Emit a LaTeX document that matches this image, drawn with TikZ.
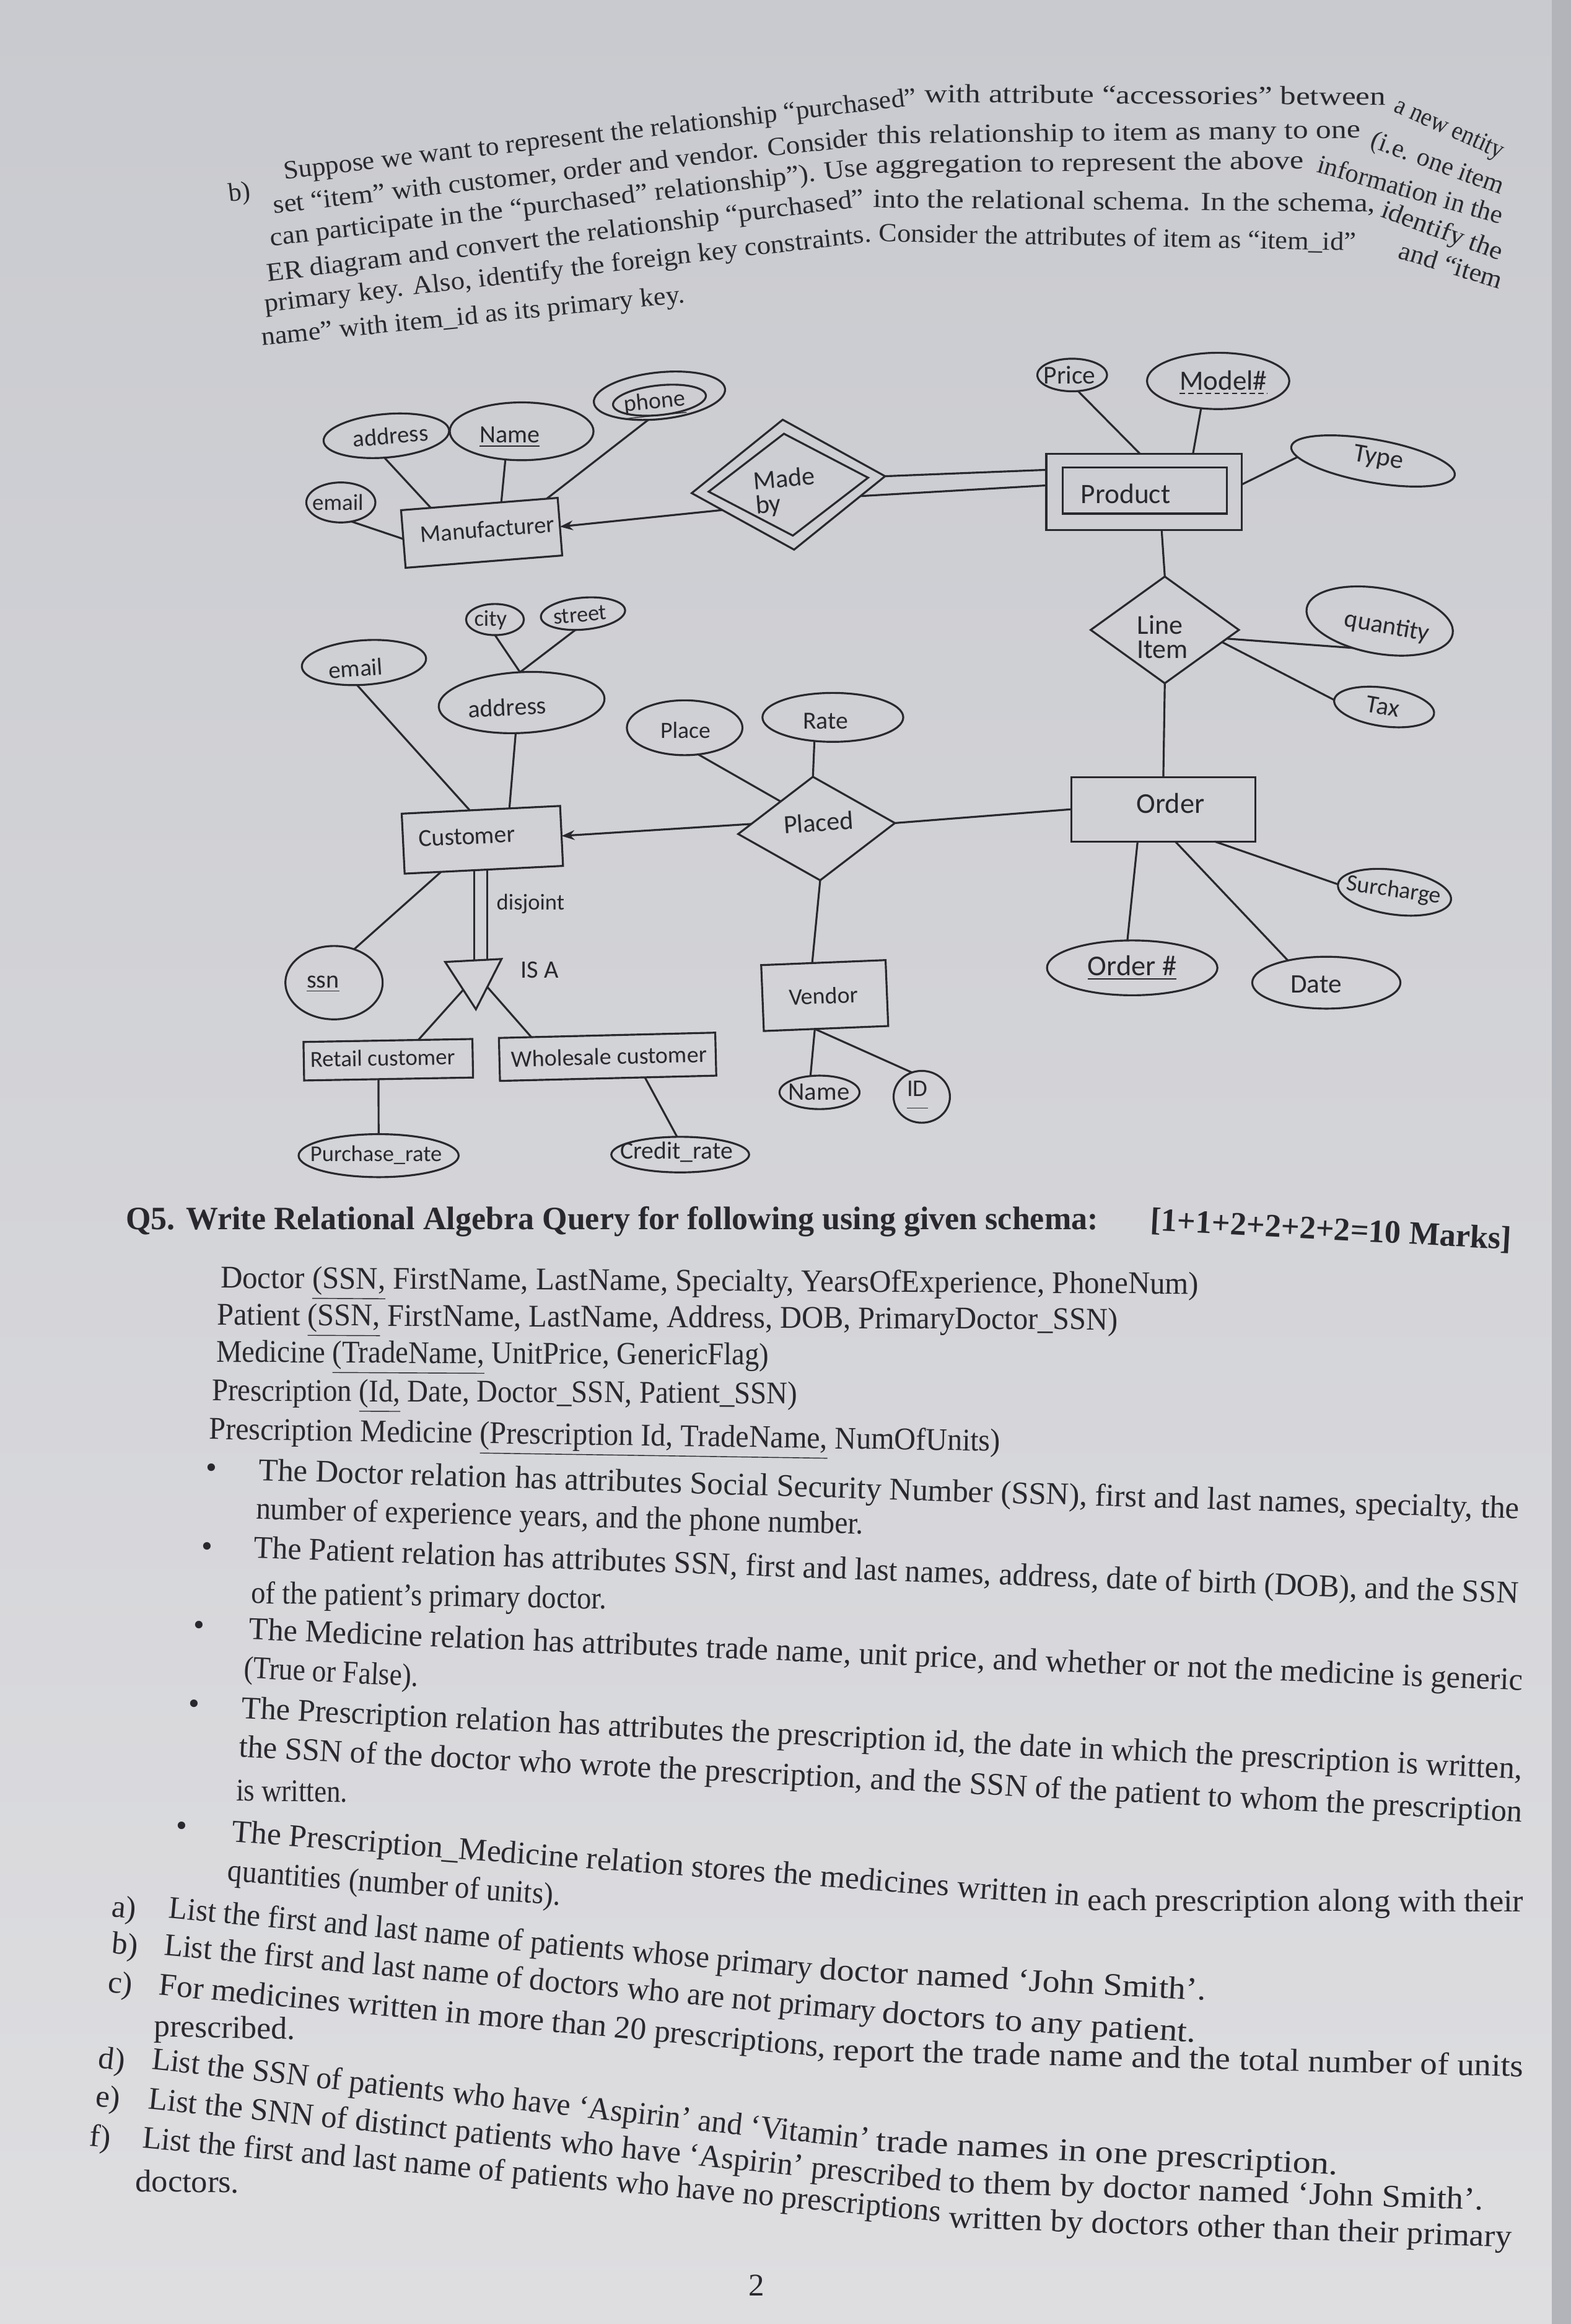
\documentclass[tikz,border=0pt]{standalone}
\usepackage{fontspec}
\setmainfont{Liberation Serif}
\newfontfamily\erfont{Carlito}
\usepackage{graphicx}
\usetikzlibrary{shapes.geometric,arrows.meta,calc}
\newlength\dpx
\setlength\dpx{0.02391cm}
\definecolor{ink}{RGB}{40,40,46}
\definecolor{papertop}{RGB}{201,202,207}
\definecolor{paperbot}{RGB}{222,222,225}
\definecolor{pageedge}{RGB}{178,180,186}
\newcommand\erf[1]{\erfont\fontsize{#1}{#1}\selectfont}
\newcommand\erfl[2]{\erfont\fontsize{#1}{#2}\selectfont}
\newcommand\tline[7]{\node[#1,rotate=#5] (#2) at (#3,#4) {\resizebox{#6\dpx}{\height}{#7}};}
\begin{document}
\begin{tikzpicture}[x=0.02391cm,y=-0.02391cm,
 tlA/.style={anchor=base west,inner sep=0pt,outer sep=0pt,text=ink,font=\fontsize{12}{14}\selectfont},
 tlB/.style={anchor=base west,inner sep=0pt,outer sep=0pt,text=ink,font=\fontsize{14.5}{17}\selectfont},
 tlH/.style={anchor=base west,inner sep=0pt,outer sep=0pt,text=ink,font=\fontsize{15}{18}\selectfont\bfseries},
 bul/.style={inner sep=0pt,outer sep=0pt,text=ink,font=\fontsize{14.5}{17}\selectfont},
 conn/.style={draw=ink,line width=0.9pt},
 shp/.style={draw=ink,line width=0.9pt,inner sep=0pt,outer sep=0pt},
 ent/.style={shp,rectangle},
 att/.style={shp,ellipse},
 rel/.style={shp,diamond},
 sz/.style 2 args={minimum width=#1\dpx,minimum height=#2\dpx},
 lab/.style={inner sep=0pt,outer sep=0pt,text=ink,font=\erf{11}},
 arr/.style={-{Stealth[length=6pt,width=4.5pt]}},
]
% paper
\shade[top color=papertop,bottom color=paperbot] (0,0) rectangle (1060,1568);
\fill[pageedge] (1047,0) rectangle (1060,1568);
\useasboundingbox (0,0) rectangle (1060,1568);

% ---------- top paragraph ----------
\node[tlA,rotate=6.5] (pb) at (155,136) {b)};
\tline{tlA}{p1a}{192}{121}{6.68}{430}{Suppose we want to represent the relationship “purchased”}
\tline{tlA}{p1b}{624}{69}{-0.38}{311}{with attribute “accessories” between}
\tline{tlA}{p1c}{940}{75}{-24}{79}{a new entity}
\tline{tlA}{p2a}{185}{144}{6.54}{404}{set “item” with customer, order and vendor. Consider}
\tline{tlA}{p2b}{592}{97}{0.7}{326}{this relationship to item as many to one}
\tline{tlA}{p2c}{924}{99}{-20}{94}{(i.e. one item}
\tline{tlA}{p3a}{183}{166}{6.8}{406}{can participate in the “purchased” relationship”). Use}
\tline{tlA}{p3b}{591}{117}{0.6}{289}{aggregation to represent the above}
\tline{tlA}{p3c}{888}{116}{-15.8}{129}{information in the}
\tline{tlA}{p4a}{181}{190}{7.2}{406}{ER diagram and convert the relationship “purchased”}
\tline{tlA}{p4b}{589}{140}{-0.5}{339}{into the relational schema. In the schema,}
\tline{tlA}{p4c}{931}{146}{-20.3}{86}{identify the}
\tline{tlA}{p5a}{179}{210.5}{6.6}{412}{primary key. Also, identify the foreign key constraints.}
\tline{tlA}{p5b}{593}{163}{-1.06}{322}{Consider the attributes of item as “item\_id”}
\tline{tlA}{p5c}{943}{174}{-17}{72}{and “item}
\tline{tlA}{p6}{177}{233}{5.8}{287}{name” with item\_id as its primary key.}

% ---------- ER diagram shapes ----------
\node[ent,sz={106}{39},rotate=4.5] (mfr) at (325,359.5) {};
\node[att,sz={46.6}{27}] (memail) at (230,339) {};
\node[att,sz={85}{29.3},rotate=5] (maddr) at (260.7,294) {};
\node[att,sz={97}{39}] (mname) at (352,291) {};
\node[att,sz={89}{31.5},rotate=6] (mphone) at (445,267) {};
\node[att,sz={63}{20},rotate=6] (mphonein) at (445,270) {};
\node[rel,sz={131}{88},rotate=5] (made) at (532,327) {};
\node[rel,sz={108}{69},rotate=5] (madein) at (532,327) {};
\node[ent,sz={132}{51.5}] (prod) at (772,332) {};
\node[ent,sz={111}{31}] (prodin) at (772.5,331) {};
\node[att,sz={47}{22}] (price) at (723.5,253) {};
\node[att,sz={96}{38}] (model) at (822,257) {};
\node[att,sz={112}{29},rotate=-10] (type) at (926.5,311) {};
\node[rel,sz={100}{72}] (li) at (786,425) {};
\node[att,sz={100}{44},rotate=-10] (qty) at (931,419) {};
\node[att,sz={68}{26},rotate=-8] (tax) at (934,477) {};
\node[ent,sz={124}{43.5}] (order) at (785,546) {};
\node[att,sz={77}{30},rotate=-8] (surch) at (941,602) {};
\node[att,sz={115}{37}] (onum) at (764,653) {};
\node[att,sz={100}{35}] (date) at (895,663) {};
\node[rel,sz={106}{70},rotate=4] (placed) at (551,559) {};
\node[att,sz={78}{37}] (place) at (462,491) {};
\node[att,sz={95}{33}] (rate) at (562,484) {};
\node[ent,sz={107}{40.5},rotate=2.8] (cust) at (325.5,566.6) {};
\node[att,sz={84}{30},rotate=4] (cemail) at (245.6,447) {};
\node[att,sz={112}{41},rotate=3] (caddr) at (352,474) {};
\node[att,sz={39}{21}] (city) at (334,418) {};
\node[att,sz={57}{21.5},rotate=5] (street) at (393.4,414) {};
\node[att,sz={65.6}{49.5}] (ssn) at (225.4,663) {};
\node[shp,regular polygon,regular polygon sides=3,shape border rotate=180,minimum size=44\dpx,rotate=3] (isa) at (320,659) {};
\node[ent,sz={114}{26},rotate=1] (retail) at (262,715) {};
\node[ent,sz={146}{29},rotate=1.4] (whole) at (410,713) {};
\node[att,sz={108}{29}] (prate) at (255.5,779.7) {};
\node[att,sz={93}{24}] (crate) at (459,779) {};
\node[ent,sz={84}{44.5},rotate=2.3] (vendor) at (556.5,671.7) {};
\node[att,sz={54}{22.6}] (vname) at (553,737) {};
\node[att,sz={38}{35}] (vid) at (622,740) {};

% ---------- ER labels ----------
\node[lab,rotate=4.5] (tMfr) at (329,357) {Manufacturer};
\node[lab,font=\erf{10.5}] (tMemail) at (228,339) {email};
\node[lab,rotate=5] (tMaddr) at (263.5,294) {address};
\node[lab,font=\erf{11.4}] (tMname) at (344,295) {\underline{Name}};
\node[lab,rotate=6,font=\erf{10.8}] (tMphone) at (442,273) {\underline{phone}};
\node[lab,font=\erfl{12}{11},align=left,rotate=5] (tMade) at (530,332) {Made\\by};
\node[lab,font=\erf{12.9}] (tProd) at (759.6,333.2) {Product};
\node[lab,font=\erf{11.8}] (tPrice) at (721.7,253) {Price};
\node[lab,font=\erf{12.8}] (tModel) at (825.5,256.5) {Model\#};
\draw[draw=ink,line width=0.8pt,dash pattern=on 2.5pt off 1.5pt] ([yshift=-1.6pt]tModel.south west) -- ([yshift=-1.6pt]tModel.south east);
\node[lab,font=\erf{12},rotate=-10] (tType) at (930,309.5) {Type};
\node[lab,font=\erfl{12.5}{11.2},align=left] (tLi) at (784.5,429.7) {Line\\Item};
\node[lab,font=\erf{11.6},rotate=-10] (tQty) at (935.9,423) {quantity};
\node[lab,font=\erf{11.6},rotate=-10] (tTax) at (933.2,476.8) {Tax};
\node[lab,font=\erf{13.2}] (tOrder) at (789.8,541.8) {Order};
\node[lab,font=\erf{10.8},rotate=-8] (tSurch) at (940.5,601) {Surcharge};
\node[lab,font=\erf{13.2}] (tOnum) at (764,653) {\underline{Order \#}};
\node[lab,font=\erf{12.3}] (tDate) at (888,664) {Date};
\node[lab,font=\erf{12},rotate=4] (tPlaced) at (552.3,554.8) {Placed};
\node[lab,font=\erf{10.7}] (tPlace) at (462.5,492.8) {Place};
\node[lab,font=\erf{11.3}] (tRate) at (557,486.5) {Rate};
\node[lab,font=\erf{11.3},rotate=2.8] (tCust) at (315,564.3) {Customer};
\node[lab,font=\erf{11.1},rotate=4] (tCemail) at (240,451) {email};
\node[lab,font=\erf{11.4},rotate=3] (tCaddr) at (342.3,477.1) {address};
\node[lab,font=\erf{10.4}] (tCity) at (331,418.3) {city};
\node[lab,font=\erf{10.3},rotate=5] (tStreet) at (391.3,414.8) {street};
\node[lab,font=\erf{11.4}] (tSsn) at (218,664) {\underline{ssn}};
\node[lab,font=\erf{10.4}] (tDisj) at (358,610) {disjoint};
\node[lab,font=\erf{11.5}] (tIsa) at (364,654.5) {IS A};
\node[lab,font=\erf{10.5},rotate=1] (tRetail) at (258.2,713.8) {Retail customer};
\node[lab,font=\erf{10.8},rotate=1.4] (tWhole) at (411,712.8) {Wholesale customer};
\node[lab,font=\erf{10.4}] (tPrate) at (253.8,779.3) {Purchase\_rate};
\node[lab,font=\erf{11.3}] (tCrate) at (456.5,777.2) {Credit\_rate};
\node[lab,font=\erf{10.8},rotate=2.3] (tVendor) at (555.7,671.8) {Vendor};
\node[lab,font=\erf{11.6}] (tVname) at (552.6,736.8) {Name};
\node[lab,font=\erf{11}] (tVid) at (619,739) {\underline{\raisebox{0pt}[\height][4pt]{ID}}};

% ---------- ER connectors ----------
\draw[conn] (memail.-61) -- (mfr.west);
\draw[conn] (maddr.-100) -- ($(mfr.north west)!0.19!(mfr.north east)$);
\draw[conn] (mname.-120) -- ($(mfr.north west)!0.64!(mfr.north east)$);
\draw[conn] (mphone.-121) -- ($(mfr.north west)!0.93!(mfr.north east)$);
\draw[conn,arr] (made.-164) -- (mfr.east);
\draw[conn] (made.east) -- ([yshift=15\dpx]prod.west);
\draw[conn] (made.-14) -- ([yshift=4.5\dpx]prod.west);
\draw[conn] (price.-70) -- ($(prod.north west)!0.48!(prod.north east)$);
\draw[conn] (model.-122) -- ($(prod.north west)!0.75!(prod.north east)$);
\draw[conn] (type.187) -- ($(prod.north east)!0.4!(prod.south east)$);
\draw[conn] ($(prod.south west)!0.59!(prod.south east)$) -- (li.north);
\draw[conn] (li.-8) -- (qty.-125);
\draw[conn] (li.-12) -- (tax.west);
\draw[conn] (li.south) -- (order.north);
\draw[conn] (placed.east) -- (order.west);
\draw[conn] ($(order.south west)!0.78!(order.south east)$) -- (surch.west);
\draw[conn] ($(order.south west)!0.36!(order.south east)$) -- (onum.100);
\draw[conn] ($(order.south west)!0.565!(order.south east)$) -- (date.150);
\draw[conn] (place.-63) -- (placed.139);
\draw[conn] (rate.-128) -- (placed.north);
\draw[conn,arr] (placed.172) -- (cust.east);
\draw[conn] (placed.south) -- ($(vendor.north west)!0.41!(vendor.north east)$);
\draw[conn] (cemail.-111) -- ($(cust.north west)!0.43!(cust.north east)$);
\draw[conn] (caddr.-104) -- ($(cust.north west)!0.68!(cust.north east)$);
\draw[conn] (city.south) -- (caddr.north);
\draw[conn] (street.-120) -- (caddr.north);
\draw[conn] ($(cust.south west)!0.23!(cust.south east)$) -- (ssn.59);
\coordinate (dl1) at ($(cust.south west)!0.44!(cust.south east)$);
\coordinate (dl2) at ($(cust.south west)!0.52!(cust.south east)$);
\draw[conn] (dl1) -- (dl1 |- isa.90);
\draw[conn] (dl2) -- (dl2 |- isa.90);
\draw[conn] (isa.-133) -- ($(retail.north west)!0.68!(retail.north east)$);
\draw[conn] (isa.-41) -- ($(whole.north west)!0.15!(whole.north east)$);
\draw[conn] ($(retail.south west)!0.44!(retail.south east)$) -- (prate.north);
\draw[conn] ($(whole.south west)!0.67!(whole.south east)$) -- (crate.100);
\draw[conn] ($(vendor.south west)!0.41!(vendor.south east)$) -- (vname.119);
\draw[conn] ($(vendor.south west)!0.41!(vendor.south east)$) -- (vid.112);

% ---------- Q5 ----------
\tline{tlH}{q5}{85}{829.5}{0}{656}{Q5. Write Relational Algebra Query for following using given schema:}
\tline{tlH}{marks}{776}{830}{-3.05}{244}{[1+1+2+2+2+2=10 Marks]}
\tline{tlB}{s1}{148.9}{869}{-0.35}{660}{Doctor \underline{(SSN,} FirstName, LastName, Specialty, YearsOfExperience, PhoneNum)}
\tline{tlB}{s2}{146.4}{894}{-0.3}{608}{Patient \underline{(SSN,} FirstName, LastName, Address, DOB, PrimaryDoctor\_SSN)}
\tline{tlB}{s3}{145.9}{919}{-0.3}{373}{Medicine \underline{(TradeName,} UnitPrice, GenericFlag)}
\tline{tlB}{s4}{143}{945}{-0.3}{395}{Prescription \underline{(Id,} Date, Doctor\_SSN, Patient\_SSN)}
\tline{tlB}{s5}{141}{971}{-0.86}{534}{Prescription Medicine \underline{(Prescription Id, TradeName,} NumOfUnits)}

\node[bul] (bu1) at (142.7,992.2) {\textbullet};
\node[bul] (bu2) at (140,1045.4) {\textbullet};
\node[bul] (bu3) at (134.4,1098.6) {\textbullet};
\node[bul] (bu4) at (131,1151.8) {\textbullet};
\node[bul] (bu5) at (122.8,1234) {\textbullet};
\tline{tlB}{d1a}{174.4}{998.7}{-1.75}{851}{The Doctor relation has attributes Social Security Number (SSN), first and last names, specialty, the}
\tline{tlB}{d1b}{172.7}{1024.8}{-1.42}{410}{number of experience years, and the phone number.}
\tline{tlB}{d2a}{171}{1051}{-2.07}{854}{The Patient relation has attributes SSN, first and last names, address, date of birth (DOB), and the SSN}
\tline{tlB}{d2b}{169.4}{1081.8}{-0.88}{240}{of the patient’s primary doctor.}
\tline{tlB}{d3a}{167.8}{1106}{-2.3}{860}{The Medicine relation has attributes trade name, unit price, and whether or not the medicine is generic}
\tline{tlB}{d3b}{164.4}{1132}{-2.8}{118}{(True or False).}
\tline{tlB}{d4a}{162.8}{1159.3}{-2.72}{865}{The Prescription relation has attributes the prescription id, the date in which the prescription is written,}
\tline{tlB}{d4b}{161}{1185.4}{-2.9}{867}{the SSN of the doctor who wrote the prescription, and the SSN of the patient to whom the prescription}
\tline{tlB}{d4c}{159.4}{1215}{-0.7}{75}{is written.}
\tline{tlB}{d5a}{156}{1242.4}{-4.36}{574}{The Prescription\_Medicine relation stores the medicines written in}
\tline{tlB}{d5c}{734}{1289}{-0.2}{294}{each prescription along with their}
\tline{tlB}{d5b}{153.4}{1269}{-4.2}{225}{quantities (number of units).}

\node[tlB,rotate=-5.33] (la) at (75,1293) {a)};
\tline{tlB}{qa}{113.6}{1294}{-5.33}{436}{List the first and last name of patients whose primary}
\tline{tlB}{qa2}{553}{1335.5}{-3.08}{261}{doctor named ‘John Smith’.}
\node[tlB,rotate=-5.36] (lb) at (75,1318) {b)};
\tline{tlB}{qb}{110.4}{1319}{-5.36}{482}{List the first and last name of doctors who are not primary}
\tline{tlB}{qb2}{595}{1364.8}{-3.58}{212}{doctors to any patient.}
\node[tlB,rotate=-5.33] (lc) at (72.5,1344) {c)};
\tline{tlB}{qc}{107}{1346}{-5.33}{452}{For medicines written in more than 20 prescriptions,}
\tline{tlB}{qc3}{562}{1390}{-1.36}{466}{report the trade name and the total number of units}
\tline{tlB}{qc2}{104}{1374}{-1.2}{95}{prescribed.}
\node[tlB,rotate=-6.37] (ld) at (66,1395) {d)};
\tline{tlB}{qd}{102}{1396}{-6.37}{487}{List the SSN of patients who have ‘Aspirin’ and ‘Vitamin’}
\tline{tlB}{qd2}{591}{1451}{-3.0}{312}{trade names in one prescription.}
\node[tlB,rotate=-5.9] (le) at (64,1421) {e)};
\tline{tlB}{qe}{99.6}{1422.7}{-5.9}{538}{List the SNN of distinct patients who have ‘Aspirin’ prescribed}
\tline{tlB}{qe2}{640}{1479}{-1.9}{361}{to them by doctor named ‘John Smith’.}
\node[tlB,rotate=-5.3] (lf) at (60,1448) {f)};
\tline{tlB}{qf}{95.8}{1449}{-5.3}{541}{List the first and last name of patients who have no prescriptions}
\tline{tlB}{qf3}{640}{1503}{-1.97}{380}{written by doctors other than their primary}
\tline{tlB}{qf2}{91.4}{1478.7}{-0.6}{70}{doctors.}
\node[tlB] (pg) at (505,1549) {2};
\end{tikzpicture}
\end{document}
